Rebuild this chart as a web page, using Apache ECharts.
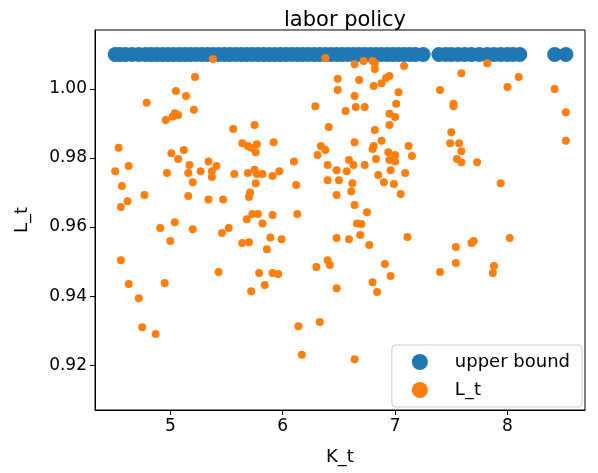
<!DOCTYPE html>
<html><head><meta charset="utf-8">
<script src="https://cdn.jsdelivr.net/npm/echarts@6/dist/echarts.min.js"></script>
<style>html,body{margin:0;padding:0;background:#fff}#c{width:598px;height:473px}</style>
</head><body><div id="c"></div>
<script>
const upperK = [4.51,4.55,4.6,4.66,4.72,4.78,4.83,4.88,4.93,4.98,5.03,5.08,5.13,5.18,5.23,5.28,5.33,5.38,5.43,5.48,5.53,5.58,5.63,5.68,5.73,5.78,5.83,5.88,5.93,5.98,6.03,6.08,6.13,6.18,6.23,6.28,6.33,6.38,6.43,6.48,6.53,6.58,6.63,6.68,6.73,6.78,6.83,6.88,6.93,6.98,7.03,7.08,7.13,7.18,7.25,7.39,7.45,7.5,7.56,7.62,7.68,7.75,7.82,7.88,7.94,8.0,8.05,8.11,8.42,8.52];
const upperL = upperK.map(() => 1.01);
const LtK = [5.38,6.38,5.22,5.05,5.14,4.79,5.21,5.04,5.02,5.07,4.96,6.29,6.49,6.49,6.41,5.56,5.75,5.92,5.64,5.69,5.72,5.77,5.76,4.54,5.12,5.01,5.07,5.34,5.17,5.41,4.63,4.51,4.97,5.16,5.27,5.37,5.37,5.57,5.69,5.75,5.77,5.82,5.91,5.97,6.10,6.31,6.34,6.38,6.40,6.48,6.40,6.50,4.57,5.20,5.76,6.12,5.71,5.70,4.77,5.16,5.34,5.47,6.48,4.62,4.56,5.04,5.73,5.78,5.91,5.68,5.82,6.13,
4.91,5.20,5.00,5.46,5.52,5.64,5.70,5.89,5.99,5.86,4.56,5.43,5.79,5.91,5.96,6.30,6.40,6.42,6.48,6.48,4.63,4.95,5.72,5.84,4.72,4.75,4.87,6.14,6.33,6.17,
6.64,6.72,6.80,6.82,6.82,7.08,7.82,7.59,8.10,6.68,6.95,6.92,6.88,6.81,8.00,8.42,7.40,7.03,6.64,7.01,7.52,7.52,6.56,6.65,6.73,6.95,7.00,6.95,8.52,6.82,7.50,6.64,6.88,8.52,7.49,7.57,6.80,6.81,7.12,7.59,6.94,7.00,7.15,6.59,6.83,6.95,7.00,6.63,6.73,7.55,7.59,7.73,6.57,6.96,7.09,6.85,6.90,6.99,6.62,6.61,7.94,7.05,6.64,6.75,6.66,6.70,
6.59,6.69,6.77,7.11,7.54,7.68,7.70,8.02,6.91,6.96,6.80,6.84,7.40,7.54,7.88,7.87,6.64,7.24];
const LtL = [1.0087,1.009,1.0035,0.9994,0.998,0.996,0.994,0.993,0.992,0.9925,0.991,0.995,1.003,0.9997,0.989,0.9884,0.9896,0.9846,0.9843,0.9835,0.983,0.984,0.9817,0.983,0.9823,0.9814,0.9797,0.979,0.978,0.9777,0.9777,0.9762,0.9757,0.9757,0.9762,0.9762,0.9745,0.9754,0.9757,0.9766,0.9754,0.9754,0.9748,0.9762,0.979,0.9809,0.9835,0.9823,0.978,0.9765,0.9736,0.9736,0.9719,0.973,0.9727,0.9722,0.970,0.9687,0.9693,0.969,0.968,0.968,0.9693,0.9675,0.9658,0.9614,0.9638,0.9638,0.9635,0.9623,0.961,0.9638,
0.9597,0.9594,0.956,0.9583,0.9597,0.9554,0.9556,0.957,0.9565,0.9536,0.9504,0.947,0.9467,0.9467,0.9464,0.9484,0.9504,0.949,0.9568,0.9423,0.9435,0.9438,0.9414,0.9432,0.9394,0.931,0.929,0.9313,0.9325,0.923,
1.0072,1.0081,1.0081,1.0075,1.0058,1.0067,1.0075,1.0046,1.0035,1.0026,1.0038,1.0032,1.0017,1.0009,1.0006,1.000,0.9997,0.9991,0.998,0.9957,0.9957,0.995,0.9936,0.9948,0.9948,0.9928,0.9919,0.9896,0.9933,0.9881,0.9875,0.9846,0.985,0.985,0.9843,0.9843,0.9826,0.9835,0.9835,0.982,0.9817,0.9809,0.9806,0.9794,0.9797,0.9794,0.979,0.978,0.978,0.9797,0.9788,0.9788,0.9762,0.9765,0.9757,0.9751,0.973,0.9725,0.9727,0.9704,0.9727,0.9696,0.9664,0.9643,0.961,0.9609,
0.9565,0.9577,0.9548,0.9571,0.9542,0.9554,0.956,0.9568,0.9493,0.9458,0.944,0.9412,0.947,0.9496,0.9487,0.9467,0.9217,0.9128];
const xTicks = [5,6,7,8];
const yTicks = [0.92,0.94,0.96,0.98,1.00];

const F = 'DejaVu Sans';
const chart = echarts.init(document.getElementById('c'), null, {renderer:'canvas'});
chart.setOption({
  animation:false,
  title:{text:'labor policy',left:340,textAlign:'center',top:5,textStyle:{fontFamily:F,fontSize:21,fontWeight:'normal',color:'#000'}},
  grid:{left:95,right:13,top:30,bottom:63,show:true,borderColor:'#000',borderWidth:1,backgroundColor:'transparent'},
  xAxis:{type:'value',min:4.33,max:8.69,name:'K_t',nameLocation:'middle',nameGap:38,
    nameTextStyle:{fontFamily:F,fontSize:18,color:'#000'},
    axisLine:{onZero:false,lineStyle:{color:'#000'}},splitLine:{show:false},
    axisTick:{show:true,length:5,customValues:xTicks,lineStyle:{color:'#000'}},
    axisLabel:{customValues:xTicks,fontFamily:F,fontSize:17,color:'#000',margin:8}},
  yAxis:{type:'value',min:0.907,max:1.0171,name:'L_t',nameLocation:'middle',nameGap:64,
    nameTextStyle:{fontFamily:F,fontSize:18,color:'#000'},
    axisLine:{show:true,onZero:false,lineStyle:{color:'#000'}},splitLine:{show:false},
    axisTick:{show:true,length:5,customValues:yTicks,lineStyle:{color:'#000'}},
    axisLabel:{customValues:yTicks,fontFamily:F,fontSize:17,color:'#000',margin:8,formatter:v=>v.toFixed(2)}},
  legend:{right:16,bottom:66,orient:'vertical',itemGap:10,itemWidth:16,itemHeight:16,
    padding:[8,12,8,20],borderColor:'#ccc',borderWidth:1,borderRadius:4,backgroundColor:'rgba(255,255,255,0.8)',
    textStyle:{fontFamily:F,fontSize:18,color:'#000',padding:[0,0,0,22]},
    data:[{name:'upper bound',icon:'circle'},{name:'L_t',icon:'circle'}]},
  series:[
    {name:'upper bound',type:'scatter',symbolSize:15,itemStyle:{color:'#1f77b4',opacity:1},data:upperK.map((k,i)=>[k,upperL[i]])},
    {name:'L_t',type:'scatter',symbolSize:8,itemStyle:{color:'#ff7f0e',opacity:1},data:LtK.map((k,i)=>[k,LtL[i]])}
  ]
});
</script></body></html>
